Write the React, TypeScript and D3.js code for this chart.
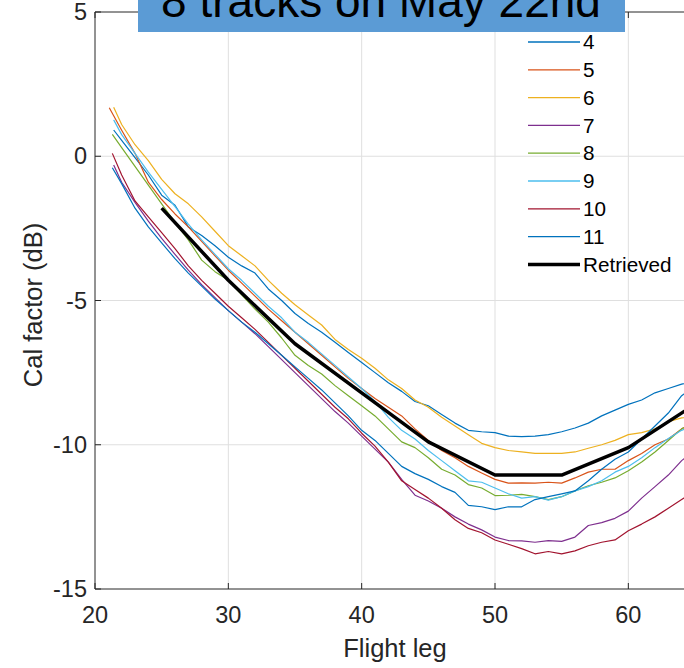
import React from "react";
import * as d3 from "d3";

const LEGS = [22, 23, 24, 25, 26, 27, 28, 29, 30, 31, 32, 33, 34, 35, 36, 37, 38, 39, 40, 41, 42, 43, 44, 45, 46, 47, 48, 49, 50, 51, 52, 53, 54, 55, 56, 57, 58, 59, 60, 61, 62, 63, 64, 65];

const NAMES = ["4", "5", "6", "7", "8", "9", "10", "11"];
const COLORS = ["#0072BD", "#D95319", "#EDB120", "#7E2F8E", "#77AC30", "#4DBEEE", "#A2142F", "#0072BD"];
const START_LEG = [21.4, 21.07, 21.4, 21.4, 21.3, 21.4, 21.3, 21.3];
const START_VAL = [0.91, 1.68, 1.7, -0.3, 0.76, 1.26, 0.1, -0.4];

const S4 = [0.55, -0.05, -0.65, -1.35, -1.7, -2.45, -2.75, -3.1, -3.5, -3.8, -4.05, -4.6, -5.0, -5.45, -5.8, -6.1, -6.45, -6.8, -7.15, -7.5, -7.85, -8.15, -8.5, -8.65, -8.95, -9.25, -9.5, -9.55, -9.58, -9.7, -9.72, -9.7, -9.65, -9.55, -9.42, -9.25, -9.0, -8.8, -8.6, -8.45, -8.2, -8.05, -7.9, -7.8];
const S5 = [0.9, 0.1, -0.9, -1.5, -2.0, -2.45, -2.95, -3.45, -3.95, -4.4, -4.85, -5.3, -5.7, -6.1, -6.5, -6.9, -7.3, -7.7, -8.05, -8.4, -8.7, -9.0, -9.45, -9.85, -10.2, -10.45, -10.75, -10.98, -11.2, -11.33, -11.32, -11.33, -11.3, -11.33, -11.15, -10.95, -10.85, -10.85, -10.55, -10.3, -10.0, -9.8, -9.45, -9.2];
const S6 = [1.1, 0.4, -0.15, -0.8, -1.3, -1.65, -2.1, -2.6, -3.1, -3.45, -3.8, -4.3, -4.75, -5.15, -5.5, -5.85, -6.35, -6.7, -7.0, -7.35, -7.75, -8.05, -8.45, -8.7, -9.05, -9.35, -9.65, -9.95, -10.1, -10.2, -10.25, -10.3, -10.3, -10.3, -10.25, -10.12, -10.0, -9.85, -9.65, -9.58, -9.45, -9.2, -9.07, -9.0];
const S7 = [-0.9, -1.6, -2.25, -2.85, -3.4, -3.95, -4.45, -4.9, -5.35, -5.75, -6.15, -6.6, -7.05, -7.5, -7.95, -8.4, -8.85, -9.25, -9.7, -10.15, -10.6, -11.2, -11.75, -11.95, -12.2, -12.5, -12.75, -12.95, -13.2, -13.32, -13.33, -13.38, -13.32, -13.35, -13.2, -12.8, -12.7, -12.55, -12.3, -11.85, -11.45, -11.05, -10.55, -10.2];
const S8 = [0.3, -0.35, -1.0, -1.65, -2.3, -2.9, -3.6, -4.0, -4.3, -4.8, -5.3, -5.75, -6.3, -6.9, -7.25, -7.55, -7.95, -8.3, -8.65, -9.0, -9.45, -9.9, -10.1, -10.45, -10.85, -11.05, -11.38, -11.5, -11.76, -11.75, -11.72, -11.8, -11.9, -11.8, -11.6, -11.42, -11.3, -11.15, -10.9, -10.6, -10.25, -9.85, -9.45, -9.2];
const S9 = [0.75, 0.1, -0.55, -1.15, -1.75, -2.35, -2.9, -3.4, -3.9, -4.3, -4.75, -5.2, -5.6, -6.1, -6.45, -6.85, -7.25, -7.65, -8.05, -8.5, -9.05, -9.5, -9.8, -10.2, -10.55, -10.9, -11.25, -11.3, -11.5, -11.7, -11.85, -11.8, -11.92, -11.8, -11.6, -11.45, -11.25, -10.95, -10.75, -10.45, -10.1, -9.78, -9.5, -9.3];
const S10 = [-0.65, -1.55, -2.1, -2.65, -3.2, -3.8, -4.3, -4.75, -5.2, -5.6, -6.0, -6.45, -6.9, -7.35, -7.8, -8.25, -8.7, -9.1, -9.6, -10.05, -10.6, -11.25, -11.55, -11.85, -12.2, -12.6, -12.9, -13.05, -13.3, -13.45, -13.6, -13.78, -13.7, -13.78, -13.68, -13.5, -13.38, -13.3, -12.98, -12.75, -12.5, -12.2, -11.9, -11.6];
const S11 = [-0.95, -1.8, -2.45, -3.0, -3.55, -4.05, -4.5, -4.95, -5.35, -5.75, -6.1, -6.5, -6.9, -7.3, -7.7, -8.1, -8.55, -9.0, -9.5, -9.85, -10.3, -10.75, -11.0, -11.2, -11.45, -11.65, -12.1, -12.15, -12.25, -12.15, -12.15, -11.9, -11.8, -11.7, -11.6, -11.25, -10.85, -10.5, -10.25, -9.8, -9.35, -8.9, -8.3, -7.95];
const SERIES = [S4, S5, S6, S7, S8, S9, S10, S11];

const RETRIEVED_LEGS = [25, 30, 35, 40, 45, 50, 55, 60, 65];
const RETRIEVED = [-1.8, -4.3, -6.5, -8.2, -9.9, -11.05, -11.05, -10.1, -8.6];

const X_TICKS = [20, 30, 40, 50, 60];
const Y_TICKS = [-15, -10, -5, 0, 5];

const TITLE = "8 tracks on May 22nd";
const X_LABEL = "Flight leg";
const Y_LABEL = "Cal factor (dB)";

const W = 684;
const H = 668;
const FONT = "'Liberation Sans', Arial, Helvetica, sans-serif";
const AX = "#262626";

export default function App() {
  const x = d3.scaleLinear().domain([20, 65]).range([95, 695]);
  const y = d3.scaleLinear().domain([-15, 5]).range([589, 12]);
  const line = d3
    .line<[number, number]>()
    .x((d) => x(d[0]))
    .y((d) => y(d[1]));

  const seriesPts = SERIES.map((vals, i) => {
    const pts: [number, number][] = [[START_LEG[i], START_VAL[i]]];
    vals.forEach((v, j) => pts.push([LEGS[j], v]));
    return pts;
  });
  const retPts: [number, number][] = RETRIEVED.map((v, i) => [RETRIEVED_LEGS[i], v]);

  const legendX0 = 528;
  const legendX1 = 580;
  const legendY0 = 42;
  const legendDy = 27.8;
  const legendItems = [...NAMES.map((n, i) => ({ n, c: COLORS[i], w: 1.3 })), { n: "Retrieved", c: "#000", w: 3.5 }];

  return (
    <svg
      width={W}
      height={H}
      style={{ position: "absolute", left: 0, top: 0, background: "#fff" }}
      fontFamily={FONT}
    >
      <rect x={0} y={0} width={W} height={H} fill="#fff" />
      {/* grid */}
      {X_TICKS.filter((t) => t > 20).map((t) => (
        <line key={"gx" + t} x1={x(t)} x2={x(t)} y1={y(-15)} y2={y(5)} stroke="#dfdfdf" strokeWidth={1} />
      ))}
      {Y_TICKS.filter((t) => t > -15 && t < 5).map((t) => (
        <line key={"gy" + t} x1={x(20)} x2={x(65)} y1={y(t)} y2={y(t)} stroke="#dfdfdf" strokeWidth={1} />
      ))}
      {/* series */}
      {seriesPts.map((pts, i) => (
        <path key={"s" + i} d={line(pts) || ""} fill="none" stroke={COLORS[i]} strokeWidth={1.2} strokeLinejoin="round" />
      ))}
      <path d={line(retPts) || ""} fill="none" stroke="#000" strokeWidth={3.5} strokeLinejoin="round" />
      {/* axes box */}
      <line x1={x(20)} x2={x(20)} y1={y(-15)} y2={y(5)} stroke={AX} strokeWidth={1} />
      <line x1={x(20)} x2={x(65)} y1={y(-15)} y2={y(-15)} stroke={AX} strokeWidth={1} />
      <line x1={x(20)} x2={x(65)} y1={y(5)} y2={y(5)} stroke={AX} strokeWidth={1} />
      <line x1={x(65)} x2={x(65)} y1={y(-15)} y2={y(5)} stroke={AX} strokeWidth={1} />
      {/* ticks */}
      {X_TICKS.map((t) => (
        <g key={"xt" + t}>
          <line x1={x(t)} x2={x(t)} y1={y(-15)} y2={y(-15) - 6} stroke={AX} />
          <line x1={x(t)} x2={x(t)} y1={y(5)} y2={y(5) + 6} stroke={AX} />
          <text x={x(t)} y={623} textAnchor="middle" fontSize={23.5} fill={AX}>
            {t}
          </text>
        </g>
      ))}
      {Y_TICKS.map((t) => (
        <g key={"yt" + t}>
          <line x1={x(20)} x2={x(20) + 6} y1={y(t)} y2={y(t)} stroke={AX} />
          <text x={87} y={y(t)} dy="0.35em" textAnchor="end" fontSize={23.5} fill={AX}>
            {t}
          </text>
        </g>
      ))}
      {/* axis labels */}
      <text x={395} y={657} textAnchor="middle" fontSize={25.5} fill={AX}>
        {X_LABEL}
      </text>
      <text transform={`translate(42,305) rotate(-90)`} textAnchor="middle" fontSize={25.5} fill={AX}>
        {Y_LABEL}
      </text>
      {/* legend */}
      {legendItems.map((it, i) => (
        <g key={"lg" + i}>
          <line
            x1={legendX0}
            x2={legendX1}
            y1={legendY0 + i * legendDy}
            y2={legendY0 + i * legendDy}
            stroke={it.c}
            strokeWidth={it.w}
          />
          <text x={legendX1 + 3} y={legendY0 + i * legendDy} dy="0.35em" fontSize={20.7} fill="#000">
            {it.n}
          </text>
        </g>
      ))}
      {/* title box */}
      <rect x={138} y={-10} width={487} height={42} fill="#5b9bd5" />
      <text x={381} y={17} textAnchor="middle" fontSize={46} fill="#000">
        {TITLE}
      </text>
    </svg>
  );
}
